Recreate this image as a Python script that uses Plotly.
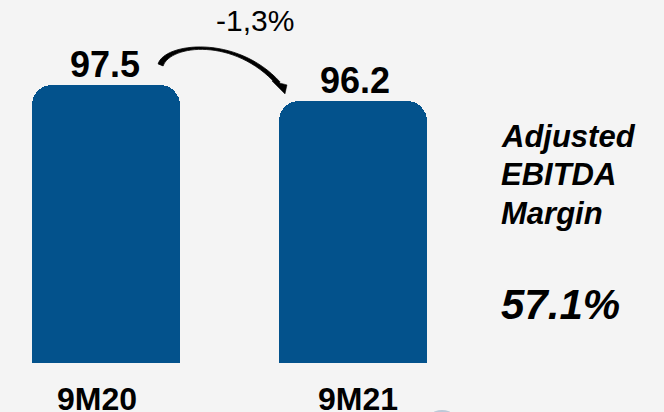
import plotly.graph_objects as go

# ---- data ----
categories = ["9M20", "9M21"]
values = [97.5, 96.2]
value_labels = ["97.5", "96.2"]
change_label = "-1,3%"
side_title = ["Adjusted", "EBITDA", "Margin"]
side_value = "57.1%"

# ---- style / geometry ----
W, H = 664, 412
MB = 49
PLOT_H = H - MB
BAR_COLOR = "#03528C"
BG = "#F4F4F4"
FONT = "Liberation Sans, Arial, sans-serif"
x_range = [-0.43, 2.26]
y_range = [74.9, 104.4]
xpos = list(range(len(categories)))


def px_to_x(px):
    return x_range[0] + px / W * (x_range[1] - x_range[0])


def x_to_px(x):
    return (x - x_range[0]) / (x_range[1] - x_range[0]) * W


def py_to_y(py):
    return y_range[0] + (PLOT_H - py) / PLOT_H * (y_range[1] - y_range[0])


def y_to_py(y):
    return PLOT_H - (y - y_range[0]) / (y_range[1] - y_range[0]) * PLOT_H


def pyp(py):  # pixel row -> paper y
    return 1 - py / PLOT_H


fig = go.Figure()
fig.add_trace(go.Bar(
    x=xpos, y=values, width=0.6,
    marker=dict(color=BAR_COLOR, cornerradius=20, line=dict(width=0)),
    hoverinfo="skip",
))

annotations = []
# value labels above bars
for xi, v, lab, dx in zip(xpos, values, value_labels, [-1, 2]):
    annotations.append(dict(
        x=xi, y=v, xref="x", yref="y", text=f"<b>{lab}</b>", showarrow=False,
        xanchor="center", yanchor="middle", yshift=20, xshift=dx,
        font=dict(family=FONT, size=36, color="#000000"),
    ))
# category labels below
for xi, c, dx in zip(xpos, categories, [-9, 5]):
    annotations.append(dict(
        x=xi, y=0, xref="x", yref="paper", text=f"<b>{c}</b>", showarrow=False,
        xanchor="center", yanchor="top", yshift=-16, xshift=dx,
        font=dict(family=FONT, size=32, color="#000000"),
    ))
# change label
annotations.append(dict(
    x=255 / W, y=pyp(20), xref="paper", yref="paper", text=change_label,
    showarrow=False, xanchor="center", yanchor="middle",
    font=dict(family=FONT, size=30, color="#000000"),
))
# side text
for t, cy in zip(side_title, [136.5, 174.5, 213.5]):
    annotations.append(dict(
        x=499 / W, y=pyp(cy), xref="paper", yref="paper", text=f"<b><i>{t}</i></b>",
        showarrow=False, xanchor="left", yanchor="middle",
        font=dict(family=FONT, size=31, color="#000000"),
    ))
annotations.append(dict(
    x=499 / W, y=pyp(304), xref="paper", yref="paper", text=f"<b><i>{side_value}</i></b>",
    showarrow=False, xanchor="left", yanchor="middle",
    font=dict(family=FONT, size=42, color="#000000"),
))

# ---- curved arrow from bar 1 label to bar 2 label (pixel offsets from bar tops) ----
b1x, b1y = x_to_px(xpos[0]), y_to_py(values[0])
b2x, b2y = x_to_px(xpos[1]), y_to_py(values[1])
P0 = (b1x + 52, b1y - 21)
P1 = (b1x + 58, b1y - 42)
P2 = (b1x + 130, b1y - 51)
P3 = (b2x - 73, b2y - 19)
Q3 = (b2x - 76, b2y - 16)
Q2 = (b1x + 128, b1y - 48)
Q1 = (b1x + 64, b1y - 40)
Q0 = (b1x + 57, b1y - 19)


def pt(p):
    return f"{px_to_x(p[0])},{py_to_y(p[1])}"


arrow_path = (f"M {pt(P0)} C {pt(P1)} {pt(P2)} {pt(P3)} "
              f"L {pt(Q3)} C {pt(Q2)} {pt(Q1)} {pt(Q0)} Z")
head_path = (f"M {pt((b2x - 81, b2y - 20))} L {pt((b2x - 66, b2y - 16))} "
             f"L {pt((b2x - 68, b2y - 7))} Z")

shapes = [
    dict(type="path", path=arrow_path, xref="x", yref="y",
         fillcolor="#000000", line=dict(color="#000000", width=0.8)),
    dict(type="path", path=head_path, xref="x", yref="y",
         fillcolor="#000000", line=dict(color="#000000", width=0.5)),
    # faint partial circle at bottom edge
    dict(type="circle", xref="paper", yref="paper",
         x0=424 / W, x1=460 / W, y0=pyp(446), y1=pyp(410),
         fillcolor="#BCC9D8", line=dict(width=0), layer="above"),
]

fig.update_layout(
    width=W, height=H,
    margin=dict(l=0, r=0, t=0, b=MB, pad=0),
    paper_bgcolor=BG, plot_bgcolor=BG,
    showlegend=False,
    xaxis=dict(range=x_range, visible=False, fixedrange=True),
    yaxis=dict(range=y_range, visible=False, fixedrange=True),
    annotations=annotations,
    shapes=shapes,
    bargap=0,
)

fig.write_html(
    "out.html",
    config={"displayModeBar": False},
    post_script="document.body.style.margin='0';document.body.style.background='#F4F4F4';",
)
